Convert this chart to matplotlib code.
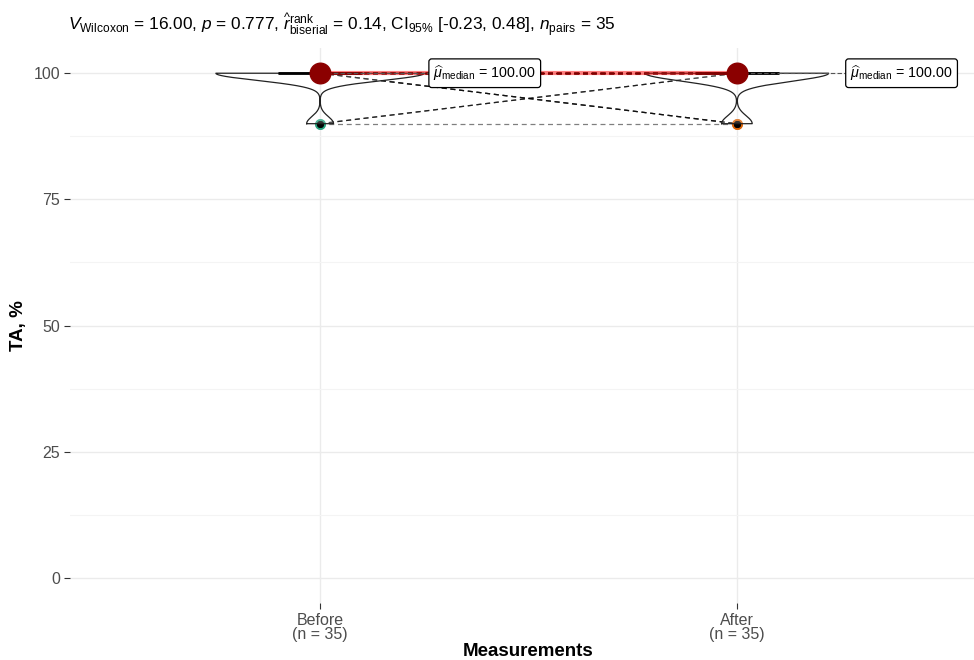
import numpy as np
import matplotlib
matplotlib.use("Agg")
import matplotlib.pyplot as plt

plt.rcParams['font.family'] = ['Liberation Sans', 'DejaVu Sans']
plt.rcParams['mathtext.fontset'] = 'custom'
plt.rcParams['mathtext.rm'] = 'Liberation Sans'
plt.rcParams['mathtext.it'] = 'Liberation Sans:italic'
plt.rcParams['mathtext.bf'] = 'Liberation Sans:bold'

# paired TA values (%), one entry per subject
before = [100, 100, 100, 100, 100, 100, 100, 100, 100, 100,
          100, 100, 100, 100, 100, 100, 100, 100, 100, 100,
          100, 100, 100, 100, 100, 100, 100, 100, 100, 100,
          100, 90, 90, 90, 90]
after = [100, 100, 100, 100, 100, 100, 100, 100, 100, 100,
         100, 100, 100, 100, 100, 100, 100, 100, 100, 100,
         100, 100, 100, 100, 100, 100, 100, 90, 90, 90,
         90, 100, 100, 100, 90]
groups = ["Before", "After"]
point_colors = ["#1B9E77", "#D95F02"]
medians = [100.00, 100.00]
title = (r"$V_{\mathrm{Wilcoxon}}$ = 16.00, $p$ = 0.777, "
         r"$\widehat{r}_{\mathrm{biserial}}^{\mathrm{rank}}$ = 0.14, "
         r"CI$_{95\%}$ [-0.23, 0.48], $n_{\mathrm{pairs}}$ = 35")

data = [np.array(before, float), np.array(after, float)]
xs = np.arange(len(groups))

fig = plt.figure(figsize=(9.74, 6.6), dpi=100)
ax = fig.add_axes([70 / 974, 57 / 660, 904 / 974, 555 / 660])


def kde(v):
    n = len(v)
    sd = v.std(ddof=1)
    iqr = np.subtract(*np.percentile(v, [75, 25]))
    lo = min(sd, iqr / 1.34) or sd
    bw = 0.9 * lo * n ** -0.2
    grid = np.linspace(v.min(), v.max(), 512)
    d = np.exp(-0.5 * ((grid[:, None] - v[None, :]) / bw) ** 2).sum(1)
    return grid, d / (n * bw * np.sqrt(2 * np.pi))


dens = [kde(v) for v in data]
dmax = max(d.max() for _, d in dens)

# paired lines
for b, a in zip(before, after):
    ax.plot([0, 1], [b, a], ls=(0, (4, 3)), color="black", alpha=0.5, lw=0.9, zorder=2)

# points
for x, v, c in zip(xs, data, point_colors):
    ax.scatter(np.full(len(v), x), v, s=60, color=c, alpha=0.5, lw=0, zorder=3)

# boxplots
ax.boxplot(data, positions=xs, widths=0.2, whis=1.5, patch_artist=True,
           boxprops=dict(facecolor=(1, 1, 1, 0.5), edgecolor="black", lw=1),
           medianprops=dict(color="black", lw=2),
           whiskerprops=dict(color="black", lw=1), capprops=dict(lw=0),
           flierprops=dict(marker="o", markersize=5, markerfacecolor="black",
                           markeredgecolor="none", alpha=0.6),
           zorder=4, manage_ticks=False)

# violins
for x, (g, d) in zip(xs, dens):
    hw = 0.25 * d / dmax
    ax.fill_betweenx(g, x - hw, x + hw, facecolor="white", alpha=0.2, zorder=4)
    ax.plot(np.concatenate([x - hw, (x + hw)[::-1], [x - hw[0]]]),
            np.concatenate([g, g[::-1], [g[0]]]), color="#222222", lw=0.9, zorder=4)

# centrality path and points
ax.plot(xs, medians, color="red", alpha=0.5, lw=3.0, zorder=5)
ax.scatter(xs, medians, s=220, color="darkred", zorder=6)

for x, m in zip(xs, medians):
    ax.plot([x, x + 0.27], [m, m], ls=(0, (4, 2)), color="#555555", lw=0.8, zorder=5)
    ax.text(x + 0.272, m, r"$\widehat{\mu}_{\mathrm{median}}$" + f" = {m:.2f}",
            fontsize=10.3, va="center", ha="left", zorder=7,
            bbox=dict(boxstyle="round,pad=0.32,rounding_size=0.2", fc="white",
                      ec="black", lw=0.9))

ax.set_xlim(-0.6, 1.5688)
ax.set_ylim(-5, 105)
ax.set_xticks(xs)
ax.set_xticklabels([f"{g}\n(n = {len(v)})" for g, v in zip(groups, data)])
ax.set_yticks([0, 25, 50, 75, 100])
ax.set_yticks([12.5, 37.5, 62.5, 87.5], minor=True)
ax.grid(True, which="major", color="#EBEBEB", lw=1.0)
ax.grid(True, which="minor", axis="y", color="#F4F4F4", lw=0.8)
ax.set_axisbelow(True)
for s in ax.spines.values():
    s.set_visible(False)
ax.tick_params(axis="both", which="major", length=4, width=0.8, color="#333333",
               labelcolor="#4D4D4D", labelsize=11.5, pad=3)
ax.tick_params(axis="y", which="minor", length=0)
ax.tick_params(axis="x", pad=3)
for lab in ax.get_xticklabels():
    lab.set_linespacing(0.95)

ax.set_ylabel("TA, %", fontsize=13.5, fontweight="bold", va="center")
ax.yaxis.set_label_coords(-52 / 904, 0.5)
ax.set_xlabel("Measurements", fontsize=13.5, fontweight="bold", va="center")
ax.xaxis.set_label_coords((528 - 70) / 904, -(652 - 603) / 555)

fig.text(68 / 974, 1 - 25 / 660, title, fontsize=12.4, va="center", ha="left")

fig.savefig("out.png", dpi=100)
